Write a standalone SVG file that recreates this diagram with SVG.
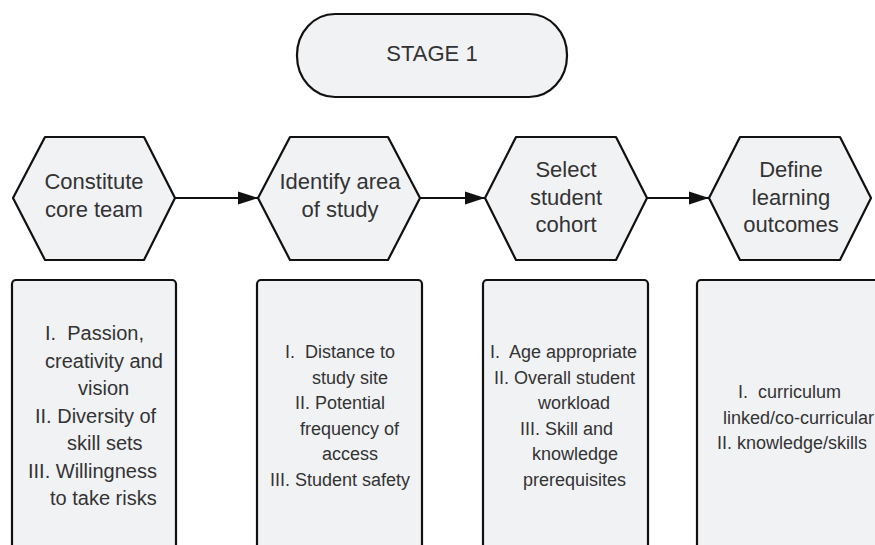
<svg xmlns="http://www.w3.org/2000/svg" width="875" height="545" viewBox="0 0 875 545">
<style>
.shape{fill:#f1f2f4;stroke:#111;stroke-width:2.2;stroke-linejoin:round}
.t{font-family:"Liberation Sans",Arial,sans-serif;fill:#333}
.h{font-size:22px;text-anchor:middle}
.b1{font-size:20px}
.b{font-size:18px}
.conn{stroke:#111;stroke-width:2.2;fill:none}
</style>
<defs>
<marker id="arr" markerWidth="20" markerHeight="14" refX="20" refY="7" orient="auto" markerUnits="userSpaceOnUse">
<path d="M0,0.5 L20,7 L0,13.5 Z" fill="#111"/>
</marker>
</defs>
<rect width="875" height="545" fill="#fff"/>

<g id="stage">
<rect class="shape" x="297" y="14" width="270" height="83" rx="38" ry="41"/>
<text class="t h" x="432" y="61">STAGE 1</text>
</g>

<g id="connectors">
<line class="conn" x1="175" y1="198" x2="258" y2="198" marker-end="url(#arr)"/>
<line class="conn" x1="420" y1="198" x2="485" y2="198" marker-end="url(#arr)"/>
<line class="conn" x1="647" y1="198" x2="709" y2="198" marker-end="url(#arr)"/>
</g>

<g id="hex1">
<polygon class="shape" points="13,198 45,137 144,137 175,198 144,260 45,260"/>
<text class="t h" x="94" y="189">Constitute</text>
<text class="t h" x="94" y="217">core team</text>
</g>

<g id="hex2">
<polygon class="shape" points="258,198 290,137 388,137 420,198 388,260 290,260"/>
<text class="t h" x="340" y="189">Identify area</text>
<text class="t h" x="340" y="217">of study</text>
</g>

<g id="hex3">
<polygon class="shape" points="485,198 516,137 616,137 647,198 616,260 516,260"/>
<text class="t h" x="566" y="177">Select</text>
<text class="t h" x="566" y="205">student</text>
<text class="t h" x="566" y="232">cohort</text>
</g>

<g id="hex4">
<polygon class="shape" points="709,198 740,137 840,137 871,198 840,260 740,260"/>
<text class="t h" x="791" y="177">Define</text>
<text class="t h" x="791" y="205">learning</text>
<text class="t h" x="791" y="232">outcomes</text>
</g>

<g id="box1">
<rect class="shape" x="12" y="280" width="164" height="290" rx="4"/>
<text class="t b1" xml:space="preserve" x="45" y="340">I.  Passion,</text>
<text class="t b1" x="45" y="367.5">creativity and</text>
<text class="t b1" x="78" y="395">vision</text>
<text class="t b1" x="35" y="422.5">II. Diversity of</text>
<text class="t b1" x="67" y="450">skill sets</text>
<text class="t b1" x="28" y="477.5">III. Willingness</text>
<text class="t b1" x="50" y="505">to take risks</text>
</g>

<g id="box2">
<rect class="shape" x="257" y="280" width="165" height="290" rx="4"/>
<text class="t b" xml:space="preserve" x="285" y="358">I.  Distance to</text>
<text class="t b" x="312" y="383.5">study site</text>
<text class="t b" x="295" y="409">II. Potential</text>
<text class="t b" x="300" y="434.5">frequency of</text>
<text class="t b" x="322" y="460">access</text>
<text class="t b" x="270" y="485.5">III. Student safety</text>
</g>

<g id="box3">
<rect class="shape" x="483" y="280" width="165" height="290" rx="4"/>
<text class="t b" xml:space="preserve" x="490" y="358">I.  Age appropriate</text>
<text class="t b" x="494" y="383.5">II. Overall student</text>
<text class="t b" x="538" y="409">workload</text>
<text class="t b" x="520" y="434.5">III. Skill and</text>
<text class="t b" x="532" y="460">knowledge</text>
<text class="t b" x="523" y="485.5">prerequisites</text>
</g>

<g id="box4">
<rect class="shape" x="697" y="280" width="200" height="290" rx="4"/>
<text class="t b" xml:space="preserve" x="738" y="398">I.  curriculum</text>
<text class="t b" x="723" y="423.5">linked/co-curricular</text>
<text class="t b" x="717" y="449">II. knowledge/skills</text>
</g>
</svg>
